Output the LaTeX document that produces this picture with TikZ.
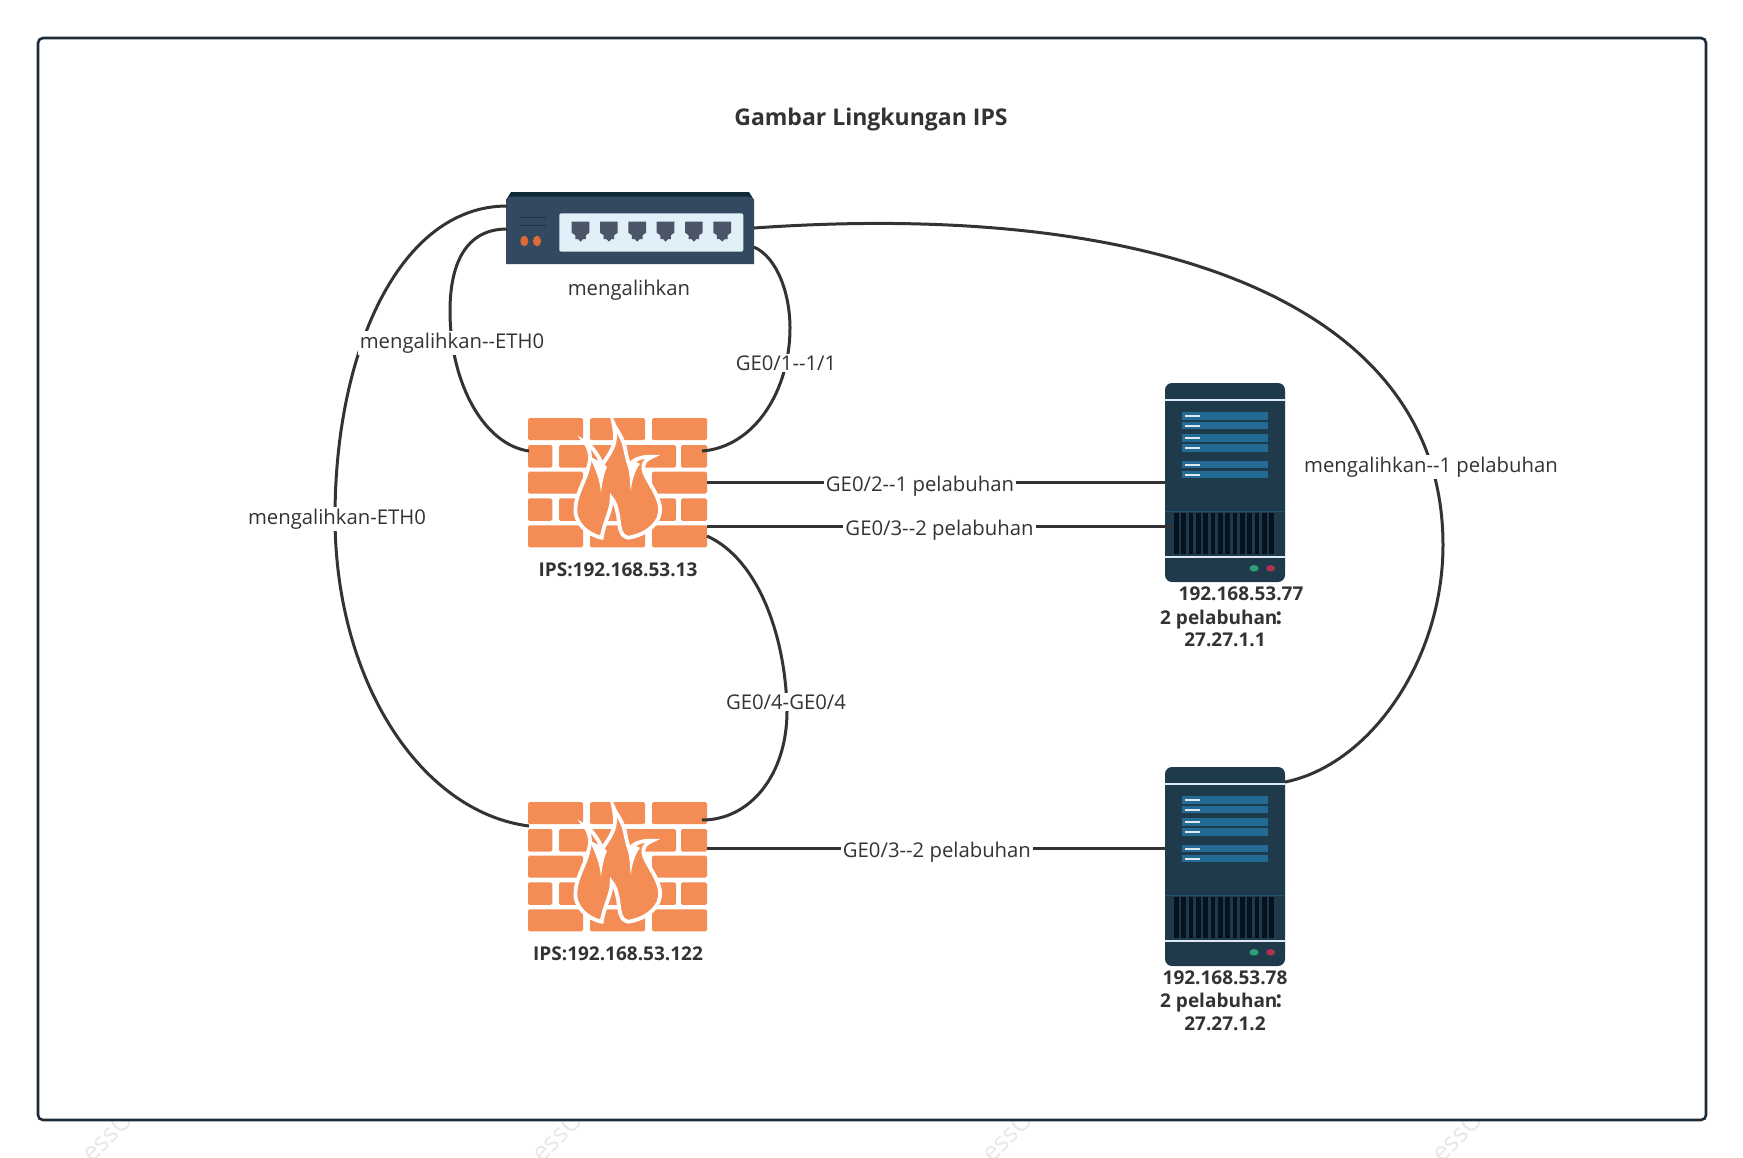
\documentclass[tikz,border=0pt]{standalone}
\usepackage{fontspec}
\setmainfont{Open Sans}
\newfontfamily\cjk{Noto Sans CJK SC}
\definecolor{linec}{HTML}{333333}
\definecolor{framec}{HTML}{1E2B38}
\definecolor{brick}{HTML}{F48C56}
\definecolor{swbody}{HTML}{33495F}
\definecolor{swtop}{HTML}{0E2A38}
\definecolor{swpanel}{HTML}{E0EFF8}
\definecolor{swport}{HTML}{4A5568}
\definecolor{swdot}{HTML}{DD6B3A}
\definecolor{srbody}{HTML}{1F3B4B}
\definecolor{srbar}{HTML}{236A94}
\definecolor{srline}{HTML}{DDE8F2}
\definecolor{srvent}{HTML}{06121F}
\definecolor{srgreen}{HTML}{2E9F77}
\definecolor{srred}{HTML}{A8344F}
\tikzset{
  devbox/.style={inner sep=0pt, outer sep=0pt},
  conn/.style={line width=3pt, linec},
  lab/.style={font=\fontsize{20.3}{24}\selectfont, text=linec, inner sep=2pt, yshift=-2pt},
  linelab/.style={lab, fill=white},
  boldlab/.style={lab, font=\fontsize{19}{23}\selectfont\bfseries, yshift=1pt},
  firewall/.pic={
    \foreach \y in {0,53.7,107.3}
      \foreach \x in {0,62,124}
        \fill[brick, rounded corners=1.5pt] (\x,\y) rectangle ++(55,22);
    \foreach \y in {27,80.3} {
      \fill[brick, rounded corners=1.5pt] (0,\y) rectangle ++(24.3,22.5);
      \fill[brick, rounded corners=1.5pt] (31,\y) rectangle ++(117,22.5);
      \fill[brick, rounded corners=1.5pt] (153,\y) rectangle ++(26,22.5);
    }
    \draw[white, fill=brick, line width=3.8pt, line join=miter]
      (85.3,5) .. controls (88,12) and (96,20) .. (97.7,33.7)
      .. controls (99,40) and (100,44) .. (101.3,47)
      .. controls (104,43) and (112,38) .. (124.3,38.7)
      .. controls (118,41) and (115,45) .. (115.3,50)
      .. controls (116,60) and (129,72) .. (132,88.7)
      .. controls (134,105) and (118,117) .. (100.3,119.7)
      .. controls (90,118) and (92,105) .. (89.3,93.7)
      .. controls (88,87) and (86,83) .. (83.7,80.3)
      .. controls (84,92) and (76,104) .. (73.7,119.7)
      .. controls (60,117) and (45,105) .. (47.7,88)
      .. controls (49,72) and (60,60) .. (62,40)
      .. controls (62,32) and (59,27) .. (56.3,23.7)
      .. controls (63,27) and (70,36) .. (74.3,47)
      .. controls (78,40) and (86,32) .. (87,20)
      .. controls (87,14) and (86,8) .. (85.3,5) -- cycle;
    \fill[white] (61,38) .. controls (68,52) and (72,62) .. (73,75)
      .. controls (74,65) and (76,55) .. (79,49) -- (74.3,45) -- cycle;
    \fill[white] (99,46) .. controls (102,55) and (102,65) .. (102.7,73)
      .. controls (104,62) and (107,52) .. (112,46) -- (105,42) -- cycle;
  },
  switchbox/.pic={
    \fill[swtop] (0,8) -- (5,0) -- (243,0) -- (248,8) -- cycle;
    \fill[swbody] (0,72) -- (0,8) [rounded corners=3pt] -- (3,4.5) -- (245,4.5) [sharp corners] -- (248,8) -- (248,72) -- cycle;
    \fill[swpanel, rounded corners=2pt] (53.3,21.3) rectangle (237.3,59.7);
    \foreach \i in {0,...,5} {
      \pgfmathsetmacro\px{65.7+28.33*\i}
      \fill[swport] (\px,29.7) -- ++(17.7,0) -- ++(0,11) -- ++(-3.5,2.5) -- ++(0,4) -- ++(-3,0)
        -- ++(-2.3,2.5) -- ++(-2.3,-2.5) -- ++(-3,0) -- ++(0,-4) -- ++(-3.6,-2.5) -- cycle;
    }
    \draw[line width=1.4pt, swtop!70!swbody] (13.3,25.7) -- (39.7,25.7);
    \draw[line width=1.4pt, swtop!70!swbody] (13.3,33.7) -- (39.7,33.7);
    \fill[swdot] (18.3,49) ellipse (4pt and 5.3pt);
    \fill[swdot] (31,49) ellipse (4pt and 5.3pt);
  },
  serverbox/.pic={
    \fill[srbody, rounded corners=7pt] (0,0) rectangle (120,199);
    \draw[srline, line width=2pt] (0,16.7) -- (120,16.7);
    \foreach \y in {29,38.7,51.4,61.4,77.7,87.7} {
      \fill[srbar] (17.3,\y) rectangle ++(86,7.6);
      \draw[srline, line width=2pt] (20,\y+3.8) -- ++(15.3,0);
    }
    \draw[srbar!50!srbody, line width=1pt] (0,128) -- (120,128);
    \foreach \i in {0,...,13} {
      \pgfmathsetmacro\px{9+7.33*\i}
      \fill[srvent] (\px,130.4) rectangle ++(4.8,40.6);
    }
    \draw[srline, line width=2pt] (0,174) -- (120,174);
    \fill[srgreen] (89,185.3) ellipse (4.5pt and 3.3pt);
    \fill[srred] (105.7,185.3) ellipse (4.5pt and 3.3pt);
  }
}
\begin{document}
\begin{tikzpicture}[x=1pt, y=-1pt]
  \useasboundingbox (0,0) rectangle (1743,1157);
  \clip (0,0) rectangle (1743,1157);
  \fill[white] (0,0) rectangle (1743,1157);

  \node[text=gray!18, rotate=45, font=\fontsize{26}{30}\selectfont] (WA) at (107,1136) {essO};
  \node[text=gray!18, rotate=45, font=\fontsize{26}{30}\selectfont] (WB) at (557,1136) {essO};
  \node[text=gray!18, rotate=45, font=\fontsize{26}{30}\selectfont] (WC) at (1007,1136) {essO};
  \node[text=gray!18, rotate=45, font=\fontsize{26}{30}\selectfont] (WD) at (1457,1136) {essO};

  \draw[framec, fill=white, line width=2.6pt, rounded corners=5pt] (38,38) rectangle (1706,1120);

  \node[lab, font=\fontsize{23}{27}\selectfont\bfseries] (T) at (871,118) {Gambar Lingkungan IPS};

  \node[devbox, minimum width=248pt, minimum height=72pt] (SW) at (630,228) {};
  \node[devbox, minimum width=179pt, minimum height=129pt] (FA) at (617.5,482.5) {};
  \node[devbox, minimum width=179pt, minimum height=129pt] (FB) at (617.5,866.5) {};
  \node[devbox, minimum width=120pt, minimum height=199pt] (SA) at (1225,482.5) {};
  \node[devbox, minimum width=120pt, minimum height=199pt] (SB) at (1225,866.5) {};

  \pic at (SW.north west) {switchbox};
  \pic at (FA.north west) {firewall};
  \pic at (FB.north west) {firewall};
  \pic at (SA.north west) {serverbox};
  \pic at (SB.north west) {serverbox};

  \coordinate (SWa) at (507,206);
  \coordinate (SWb) at (507,229);
  \coordinate (SWc) at (754,228);
  \coordinate (SWd) at (754,247);
  \coordinate (FAa) at (529,451);
  \coordinate (FAb) at (702,451);
  \coordinate (FAc) at (707,526);
  \coordinate (FAd) at (707,536);
  \coordinate (FBa) at (529,826);
  \coordinate (FBb) at (702,820);
  \coordinate (FBc) at (707,848);
  \coordinate (SAa) at (1172,526);
  \coordinate (SBa) at (1165,848);
  \coordinate (SBb) at (1285,782);

  \draw[conn] (SWa) .. controls (400,206) and (335,350) .. (335,517)
    .. controls (335,680) and (420,812) .. (FBa);
  \draw[conn] (SWb) .. controls (465,229) and (450,265) .. (450,311)
    .. controls (450,385) and (485,445) .. (FAa);
  \draw[conn] (SWd) .. controls (778,258) and (790,295) .. (790,328)
    .. controls (790,390) and (755,447) .. (FAb);
  \draw[conn] (SWc) .. controls (1150,200) and (1443,300) .. (1443,545)
    .. controls (1443,660) and (1370,765) .. (SBb);
  \draw[conn] (FAd) .. controls (760,560) and (786,640) .. (787,711)
    .. controls (787,775) and (750,820) .. (FBb);
  \draw[conn] (FA.east) -- node[linelab, pos=0.465, yshift=-2pt] (LA) {GE0/2-{}-1 pelabuhan} (SA.west);
  \draw[conn] (FAc) -- node[linelab, pos=0.5, yshift=-2pt] (LB) {GE0/3-{}-2 pelabuhan} (SAa);
  \draw[conn] (FBc) -- node[linelab, pos=0.502, yshift=-2pt] (LC) {GE0/3-{}-2 pelabuhan} (SBa);

  \node[linelab] (LD) at (452,341) {mengalihkan-{}-ETH0};
  \node[linelab] (LE) at (786,361) {GE0/1-{}-1/1};
  \node[linelab] (LF) at (337,517) {mengalihkan-ETH0};
  \node[linelab] (LG) at (786,700) {GE0/4-GE0/4};
  \node[linelab] (LH) at (1431,465) {mengalihkan-{}-1 pelabuhan};

  \node[lab] (NA) at (629,288) {mengalihkan};
  \node[boldlab] (NB) at (618,569) {IPS:192.168.53.13};
  \node[boldlab] (NC) at (618,953) {IPS:192.168.53.122};

  \node[boldlab] (ND) at (1241,593) {192.168.53.77};
  \node[boldlab, anchor=west] (NE) at (1158,619) {2 pelabuhan\kern-3pt{\cjk：}};
  \node[boldlab] (NF) at (1225,639) {27.27.1.1};

  \node[boldlab] (NG) at (1225,977) {192.168.53.78};
  \node[boldlab, anchor=west] (NH) at (1158,1002) {2 pelabuhan\kern-3pt{\cjk：}};
  \node[boldlab] (NI) at (1225,1023) {27.27.1.2};

\end{tikzpicture}
\end{document}
